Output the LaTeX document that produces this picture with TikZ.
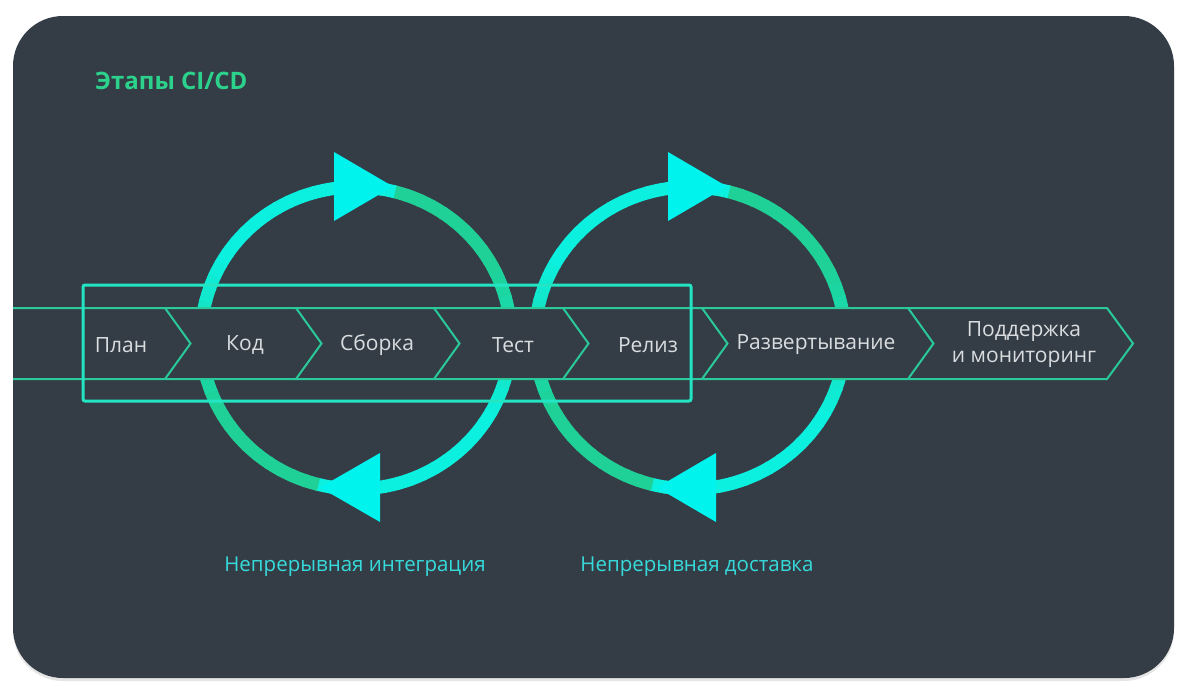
\documentclass[tikz,border=0pt]{standalone}
\usepackage{fontspec}
\setmainfont{Open Sans}
\definecolor{bgdark}{HTML}{343D46}
\definecolor{ringgreen}{HTML}{1FD196}
\definecolor{ringcyan}{HTML}{0CF0E0}
\definecolor{arrowcyan}{HTML}{00F3EC}
\definecolor{hlcyan}{HTML}{24E5C3}
\definecolor{bandline}{HTML}{2AC99A}
\definecolor{titlegreen}{HTML}{2CD28C}
\definecolor{labelcyan}{HTML}{36DADA}
\definecolor{textgray}{HTML}{DADDE0}
\tikzset{
  stagetext/.style={text=textgray, font=\fontsize{21}{26}\selectfont, inner sep=0pt, align=center},
  looplabel/.style={text=labelcyan, font=\fontsize{20.5}{24}\selectfont, inner sep=0pt},
  bandstroke/.style={draw=bandline, line width=2pt, line join=miter},
  arrowtri/.style={fill=arrowcyan},
}
\begin{document}
\begin{tikzpicture}[x=1pt,y=-1pt]
\useasboundingbox (0,0) rectangle (1181,683);
\fill[white] (0,0) rectangle (1181,683);
\fill[black!10, rounded corners=50] (13,19) rectangle (1174,681);
\fill[bgdark, rounded corners=50] (13,16) rectangle (1174,678);

% title
\node[anchor=west, text=titlegreen, font=\fontsize{24}{28}\selectfont\bfseries, inner sep=0pt] (title) at (95,81) {Этапы CI/CD};

% rings
\foreach \cx in {356,690} {
  \foreach \i in {0,...,71} {
    \pgfmathsetmacro\a{-76+5*\i}
    \pgfmathsetmacro\b{\a<104 ? \a : \a-180}
    \pgfmathtruncatemacro\p{max(0,min(100,(30-\b)*100/60))}
    \draw[line width=13pt, color=ringgreen!\p!ringcyan]
      ([shift={(\a:155 and 151)}]\cx,338) arc[start angle=\a, end angle=\a+5.6, x radius=155, y radius=151];
  }
}

% band
\fill[bgdark] (13,308) -- (1107,308) -- (1133,343.5) -- (1107,379) -- (13,379) -- cycle;
\draw[bandstroke] (13,308) -- (1107,308) -- (1133,343.5) -- (1107,379) -- (13,379);
\foreach \xt in {165,296,434,563,702,908} {
  \draw[bandstroke] (\xt,308) -- (\xt+25.5,343.5) -- (\xt,379);
}

% stage texts
\node[stagetext] (plan) at (121,345) {План};
\node[stagetext] (kod) at (245,345) {Код};
\node[stagetext] (sborka) at (377,345) {Сборка};
\node[stagetext] (test) at (513,345) {Тест};
\node[stagetext] (reliz) at (648,345) {Релиз};
\node[stagetext] (razv) at (816,345) {Развертывание};
\node[stagetext] (podd) at (1024,345) {Поддержка\\и мониторинг};

% highlight rectangle
\draw[hlcyan, line width=3pt, rounded corners=2pt] (83,285) rectangle (691,401);

% arrowheads
\fill[arrowtri] (334,152) -- (393,186.5) -- (334,221) -- cycle;
\fill[arrowtri] (380,453) -- (320,487.5) -- (380,522) -- cycle;
\fill[arrowtri] (668,152) -- (727,186.5) -- (668,221) -- cycle;
\fill[arrowtri] (716,453) -- (657,487.5) -- (716,522) -- cycle;

% loop labels
\node[looplabel] (ci) at (355,567) {Непрерывная интеграция};
\node[looplabel] (cd) at (697,567) {Непрерывная доставка};
\end{tikzpicture}
\end{document}
